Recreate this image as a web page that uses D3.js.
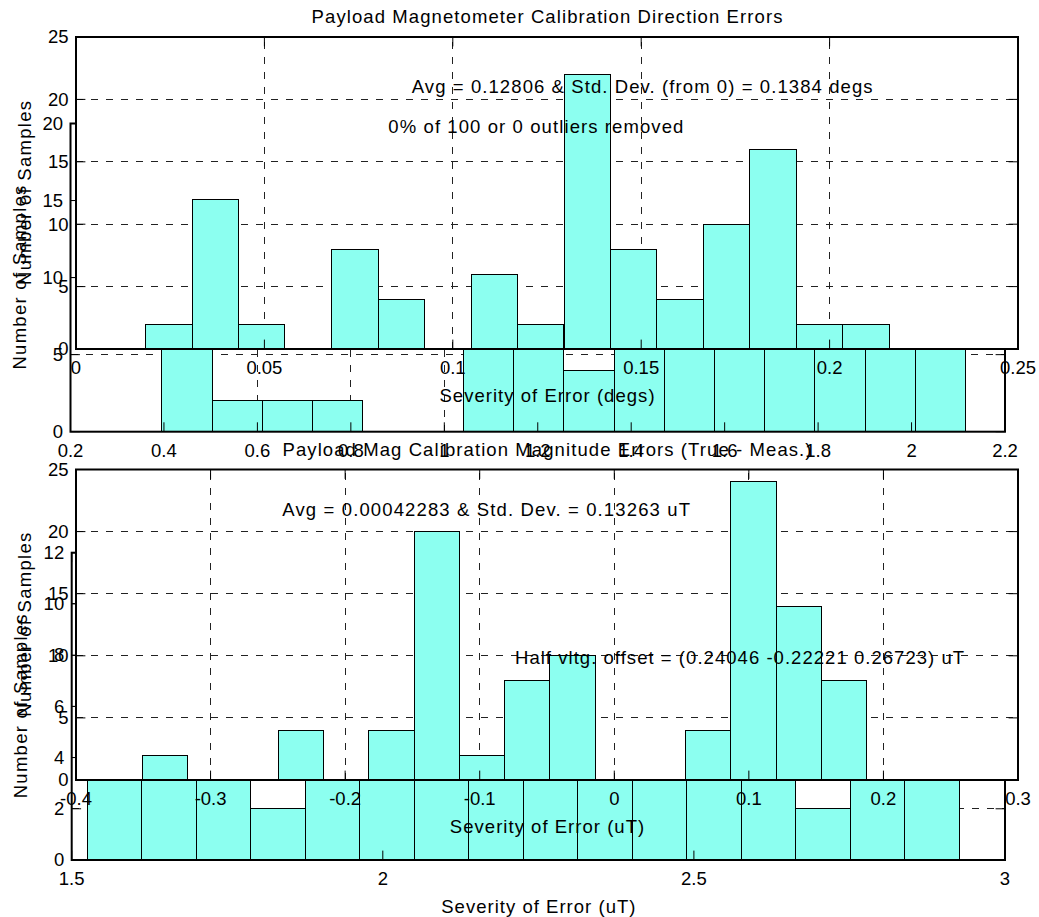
<!DOCTYPE html>
<html>
<head>
<meta charset="utf-8">
<script src="https://cdn.jsdelivr.net/npm/d3@7"></script>
<style>
body { margin: 0; background: #fff; }
text { font-family: "Liberation Sans", Arial, sans-serif; font-size: 18.5px; fill: #000; }
</style>
</head>
<body>
<svg id="fig" width="1039" height="917"></svg>
<script>
// top front axes: direction errors (degs)
const dirCenters = [0.0247, 0.0370, 0.0493, 0.0617, 0.0740, 0.0863, 0.0987, 0.1110,
                    0.1233, 0.1357, 0.1480, 0.1603, 0.1727, 0.1850, 0.1973, 0.2097];
const dirCounts = [2, 12, 2, 0, 8, 4, 0, 6, 2, 22, 8, 4, 10, 16, 2, 2];
const dirXTicks = [0, 0.05, 0.1, 0.15, 0.2, 0.25];
const dirYTicks = [0, 5, 10, 15, 20, 25];

// top back axes (mostly covered by the front one)
const dirBackCenters = [0.4495, 0.5570, 0.6645, 0.7720, 0.8795, 0.9870, 1.0945, 1.2020,
                        1.3095, 1.4170, 1.5245, 1.6320, 1.7395, 1.8470, 1.9545, 2.0620];
const dirBackCounts = [11, 2, 2, 2, 0, 0, 9, 10, 4, 8, 7, 10, 9, 12, 7, 7];
const dirBackXTicks = [0.2, 0.4, 0.6, 0.8, 1, 1.2, 1.4, 1.6, 1.8, 2, 2.2];
const dirBackYTicks = [0, 5, 10, 15, 20];

// bottom front axes: magnitude errors (uT)
const magCenters = [-0.3336, -0.3000, -0.2664, -0.2327, -0.1991, -0.1655, -0.1319, -0.0982,
                    -0.0646, -0.0310, 0.0026, 0.0363, 0.0699, 0.1035, 0.1371, 0.1708];
const magCounts = [2, 0, 0, 4, 0, 4, 20, 2, 8, 10, 0, 0, 4, 24, 14, 8];
const magXTicks = [-0.4, -0.3, -0.2, -0.1, 0, 0.1, 0.2, 0.3];
const magYTicks = [0, 5, 10, 15, 20, 25];

// bottom back axes
const magBackCenters = [1.5689, 1.6565, 1.7441, 1.8317, 1.9193, 2.0069, 2.0945, 2.1821,
                        2.2697, 2.3573, 2.4449, 2.5325, 2.6200, 2.7076, 2.7952, 2.8828];
const magBackCounts = [5, 6, 8, 2, 7, 9, 6, 8, 7, 5, 6, 10, 7, 2, 6, 6];
const magBackXTicks = [1.5, 2, 2.5, 3];
const magBackYTicks = [0, 2, 4, 6, 8, 10, 12];

const dirTitle = "Payload Magnetometer Calibration Direction Errors";
const magTitle = "Payload Mag Calibration Magnitude Errors (True - Meas.)";
const yLabel = "Number of Samples";
const dirXLabel = "Severity of Error (degs)";
const magXLabel = "Severity of Error (uT)";
const dirNotes = ["Avg = 0.12806 & Std. Dev. (from 0) = 0.1384 degs", "0% of 100 or 0 outliers removed"];
const magNotes = ["Avg = 0.00042283 & Std. Dev. = 0.13263 uT", "Half vltg. offset = (0.24046 -0.22221 0.26723) uT"];

const svg = d3.select("#fig");
const WIDEN = 1.125;   // matlab screen font runs wider than Arial
const barFill = "#8cfff0";

function label(g, str, x, y, anchor, rot, widen) {
    const t = g.append("text").text(str);
    let w = t.node().getComputedTextLength();
    if (widen !== false) {
        w *= WIDEN;
        t.attr("textLength", w).attr("lengthAdjust", "spacing");
    }
    const off = anchor === "middle" ? -w / 2 : anchor === "end" ? -w : 0;
    if (rot) {
        t.attr("transform", "translate(" + x + "," + y + ") rotate(-90)").attr("x", off).attr("y", 0);
    } else {
        t.attr("x", x + off).attr("y", y);
    }
    return t;
}

function fmt(v) { return String(+v.toFixed(6)); }

function drawAxes(o) {
    const b = o.box;
    const g = svg.append("g");
    const x = d3.scaleLinear().domain(o.xDomain).range([b.l, b.r]);
    const y = d3.scaleLinear().domain(o.yDomain).range([b.b, b.t]);

    g.append("rect").attr("x", b.l).attr("y", b.t)
        .attr("width", b.r - b.l).attr("height", b.b - b.t).attr("fill", "#fff");

    // dashed grid
    const grid = g.append("g").attr("stroke", "#222").attr("stroke-width", 1)
        .attr("stroke-dasharray", "7,8").attr("shape-rendering", "crispEdges");
    grid.selectAll(".gx").data(o.xTicks).enter().append("line")
        .attr("x1", d => x(d)).attr("x2", d => x(d)).attr("y1", b.b).attr("y2", b.t);
    grid.selectAll(".gy").data(o.yTicks).enter().append("line")
        .attr("y1", d => y(d)).attr("y2", d => y(d)).attr("x1", b.l).attr("x2", b.r);

    // histogram bars
    const bw = x(o.centers[1]) - x(o.centers[0]);
    g.append("g").selectAll("rect")
        .data(o.centers.map((c, i) => ({ c: c, n: o.counts[i] })).filter(d => d.n > 0))
        .enter().append("rect")
        .attr("x", d => x(d.c) - bw / 2)
        .attr("y", d => y(d.n))
        .attr("width", bw)
        .attr("height", d => y(0) - y(d.n))
        .attr("fill", barFill)
        .attr("stroke", "#000")
        .attr("stroke-width", 1)
        .attr("shape-rendering", "crispEdges");

    // box and ticks
    const tl = 9.4;
    const ax = g.append("g").attr("stroke", "#000").attr("fill", "none");
    ax.append("rect").attr("x", b.l).attr("y", b.t)
        .attr("width", b.r - b.l).attr("height", b.b - b.t).attr("stroke-width", 2);
    o.xTicks.forEach(d => {
        ax.append("line").attr("x1", x(d)).attr("x2", x(d)).attr("y1", b.b).attr("y2", b.b - tl);
        ax.append("line").attr("x1", x(d)).attr("x2", x(d)).attr("y1", b.t).attr("y2", b.t + tl);
    });
    o.yTicks.forEach(d => {
        ax.append("line").attr("y1", y(d)).attr("y2", y(d)).attr("x1", b.l).attr("x2", b.l + tl);
        ax.append("line").attr("y1", y(d)).attr("y2", y(d)).attr("x1", b.r).attr("x2", b.r - tl);
    });

    o.xTicks.forEach(d => label(g, fmt(d), x(d), b.b + 25, "middle", false, false));
    o.yTicks.forEach(d => label(g, fmt(d), b.l - 7.5, y(d) + 6.3, "end", false, false));

    if (o.title) label(g, o.title, (b.l + b.r) / 2, b.t - 14, "middle");
    label(g, o.xlabel, (b.l + b.r) / 2, b.b + 52.5, "middle");
    label(g, yLabel, b.l - 45, (b.t + b.b) / 2, "middle", true);

    (o.notes || []).forEach(n => label(g, n.text, x(n.x), y(n.y) + 6.3, "start"));
}

drawAxes({
    box: { l: 70.5, r: 1005, t: 123.5, b: 431.7 },
    xDomain: [0.2, 2.2], yDomain: [0, 20],
    centers: dirBackCenters, counts: dirBackCounts,
    xTicks: dirBackXTicks, yTicks: dirBackYTicks,
    xlabel: dirXLabel
});

drawAxes({
    box: { l: 76, r: 1018, t: 37, b: 349 },
    xDomain: [0, 0.25], yDomain: [0, 25],
    centers: dirCenters, counts: dirCounts,
    xTicks: dirXTicks, yTicks: dirYTicks,
    title: dirTitle, xlabel: dirXLabel,
    notes: [{ text: dirNotes[0], x: 0.0891, y: 21.0 }, { text: dirNotes[1], x: 0.0829, y: 17.8 }]
});

drawAxes({
    box: { l: 71.7, r: 1005, t: 552.7, b: 860 },
    xDomain: [1.5, 3], yDomain: [0, 12],
    centers: magBackCenters, counts: magBackCounts,
    xTicks: magBackXTicks, yTicks: magBackYTicks,
    xlabel: magXLabel
});

drawAxes({
    box: { l: 76, r: 1018, t: 469.5, b: 780 },
    xDomain: [-0.4, 0.3], yDomain: [0, 25],
    centers: magCenters, counts: magCounts,
    xTicks: magXTicks, yTicks: magYTicks,
    title: magTitle, xlabel: magXLabel,
    notes: [{ text: magNotes[0], x: -0.2467, y: 21.8 }, { text: magNotes[1], x: -0.0738, y: 9.85 }]
});
</script>
</body>
</html>
